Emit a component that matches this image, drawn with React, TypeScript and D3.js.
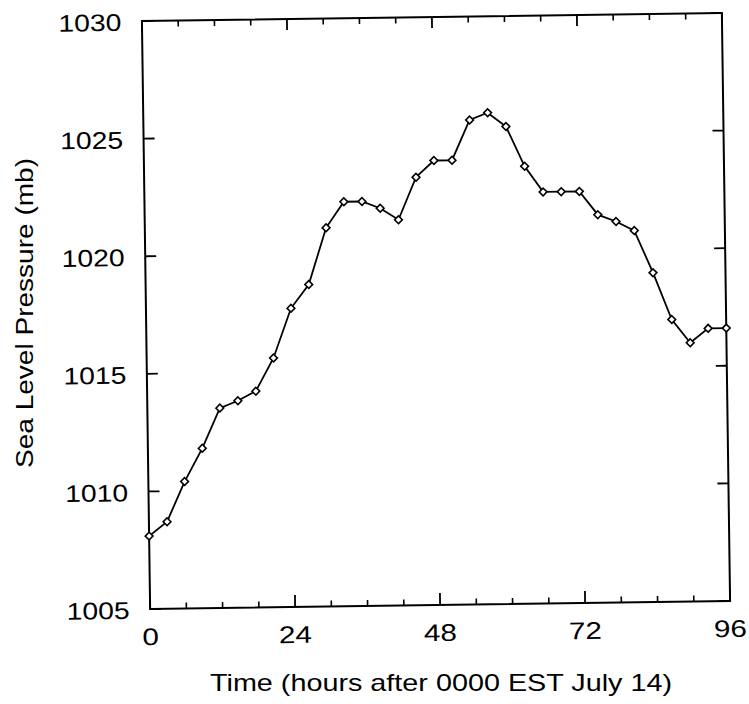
import React from "react";
import * as d3 from "d3";

const hours = [0, 3, 6, 9, 12, 15, 18, 21, 24, 27, 30, 33, 36, 39, 42, 45, 48, 51, 54, 57, 60, 63, 66, 69, 72, 75, 78, 81, 84, 87, 90, 93, 96];
const pressure = [1008.1, 1008.7, 1010.4, 1011.8, 1013.5, 1013.8, 1014.2, 1015.6, 1017.7, 1018.7, 1021.1, 1022.2, 1022.2, 1021.9, 1021.4, 1023.2, 1023.9, 1023.9, 1025.6, 1025.9, 1025.3, 1023.6, 1022.5, 1022.5, 1022.5, 1021.5, 1021.2, 1020.8, 1019.0, 1017.0, 1016.0, 1016.6, 1016.6];
const xMajorTicks = [0, 24, 48, 72, 96];
const xMinorTicks = [6, 12, 18, 30, 36, 42, 54, 60, 66, 78, 84, 90];
const yTicks = [1005, 1010, 1015, 1020, 1025, 1030];
const xTitle = "Time (hours after 0000 EST  July  14)";
const yTitle = "Sea Level Pressure (mb)";

const W = 749, H = 704;
const L = 146, R = 726, T = 17, B = 605;
const FONT = "'Liberation Sans', Arial, Helvetica, sans-serif";

export default function App() {
  const x = d3.scaleLinear().domain([0, 96]).range([L, R]);
  const y = d3.scaleLinear().domain([1005, 1030]).range([B, T]);
  const line = d3.line<number>().x((_, i) => x(hours[i])).y((d) => y(d));
  const sym = d3.symbol(d3.symbolSquare, 30)();
  const cx = (L + R) / 2, cy = (T + B) / 2;

  return (
    <svg width={W} height={H} style={{ position: "absolute", left: 0, top: 0, background: "#fff" }}>
      <g transform={`rotate(-0.8, ${cx}, ${cy})`}>
        <rect x={L} y={T} width={R - L} height={B - T} fill="none" stroke="#000" strokeWidth={2} />
        {xMajorTicks.map((t) => (
          <g key={"xm" + t}>
            <line x1={x(t)} x2={x(t)} y1={B} y2={B - 12} stroke="#000" strokeWidth={1.8} />
            <line x1={x(t)} x2={x(t)} y1={T} y2={T + 11} stroke="#000" strokeWidth={1.8} />
            <text x={x(t)} y={B + 36} textAnchor="middle" fontFamily={FONT} fontSize={24}
              textLength={String(t).length * 16.5} lengthAdjust="spacingAndGlyphs">{t}</text>
          </g>
        ))}
        {xMinorTicks.map((t) => (
          <g key={"xn" + t}>
            <line x1={x(t)} x2={x(t)} y1={B} y2={B - 6} stroke="#000" strokeWidth={1.6} />
            <line x1={x(t)} x2={x(t)} y1={T} y2={T + 6} stroke="#000" strokeWidth={1.6} />
          </g>
        ))}
        {yTicks.map((t) => (
          <g key={"y" + t}>
            <line x1={L} x2={L + 11} y1={y(t)} y2={y(t)} stroke="#000" strokeWidth={1.8} />
            <line x1={R} x2={R - 11} y1={y(t)} y2={y(t)} stroke="#000" strokeWidth={1.8} />
            <text x={125.5} y={y(t) + 9.5} textAnchor="end" fontFamily={FONT} fontSize={24}
              textLength={63} lengthAdjust="spacingAndGlyphs">{t}</text>
          </g>
        ))}
        <path d={line(pressure) || ""} fill="none" stroke="#000" strokeWidth={1.8} />
        {pressure.map((p, i) => (
          <path key={"m" + i} d={sym || ""} transform={`translate(${x(hours[i])},${y(p)}) rotate(45)`}
            fill="#fff" stroke="#000" strokeWidth={1.6} />
        ))}
      </g>
      <text x={441} y={691} textAnchor="middle" fontFamily={FONT} fontSize={24}
        textLength={462} lengthAdjust="spacingAndGlyphs">{xTitle}</text>
      <text transform={`translate(33, 313) rotate(-90)`} textAnchor="middle" fontFamily={FONT} fontSize={23}
        textLength={310} lengthAdjust="spacingAndGlyphs">{yTitle}</text>
    </svg>
  );
}
